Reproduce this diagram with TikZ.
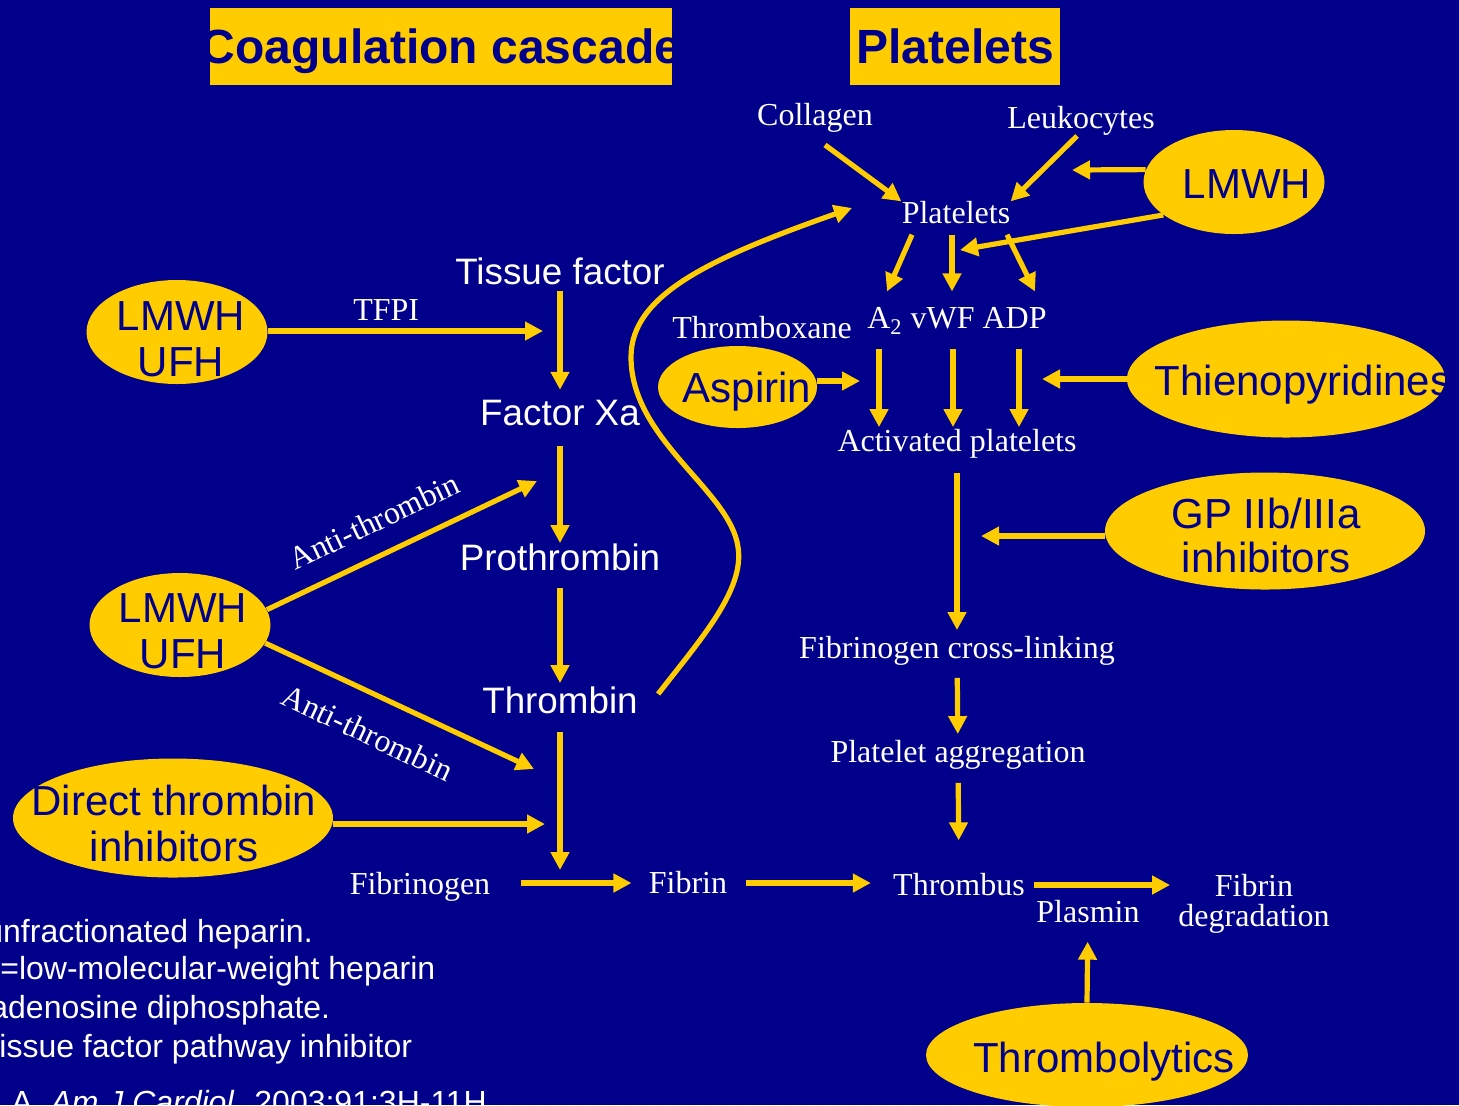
\documentclass[tikz,border=0pt]{standalone}
\usepackage{fontspec}
\setmainfont{Liberation Serif}
\setsansfont{Liberation Sans}
\usepackage{tikz}
\usetikzlibrary{shapes.geometric,arrows.meta}
\definecolor{navy}{HTML}{00008B}
\definecolor{gold}{HTML}{FFCC00}

\begin{document}
\begin{tikzpicture}[x=0.5pt,y=-0.5pt,
  lbl/.style={text=white,font=\fontsize{16}{19}\selectfont,inner sep=0pt,align=center},
  stage/.style={text=white,font=\sffamily\fontsize{18.4}{22}\selectfont,inner sep=0pt},
  drug/.style={ellipse,fill=gold,inner sep=0pt},
  drugtxt/.style={text=navy,font=\sffamily\fontsize{21}{23}\selectfont,inner sep=0pt,align=center},
  ttl/.style={fill=gold,text=navy,font=\sffamily\bfseries\fontsize{24}{28}\selectfont,inner sep=0pt,minimum height=38.5pt},
  note/.style={text=white,font=\sffamily\fontsize{16}{19}\selectfont,inner sep=0pt,anchor=base west},
  arr/.style={-{Triangle[length=9pt,width=9pt]},gold,line width=2.6pt}]
\useasboundingbox (0,0) rectangle (1459,1105);
\fill[navy] (0,0) rectangle (1459,1105);
\clip (0,0) rectangle (1459,1105);

% titles
\node[ttl,minimum width=231pt] (ttlA) at (441,46.5) {\makebox[0pt]{\raisebox{-2.5pt}[\height][\depth]{Coagulation cascade}}};
\node[ttl,minimum width=105pt] (ttlB) at (955,46.5) {Platelets};

% coagulation cascade
\node[stage] (tf) at (560,271) {Tissue factor};
\node[stage] (fxa) at (560,413) {Factor Xa};
\node[stage] (pro) at (560,557) {Prothrombin};
\node[stage] (thr) at (560,700) {Thrombin};
\node[lbl] (fbg) at (420,887) {Fibrinogen};
\node[lbl] (fib) at (688,883) {Fibrin};
\node[lbl] (thrb) at (959,885) {Thrombus};
\node[lbl] (plas) at (1088,912) {Plasmin};
\node[lbl,font=\fontsize{16}{15}\selectfont] (fdeg) at (1254,904) {Fibrin\\degradation};

% platelets
\node[lbl] (coll) at (815,118) {Collagen};
\node[lbl] (leuk) at (1081,121) {Leukocytes};
\node[lbl] (plt) at (956,213) {Platelets};
\node[lbl] (txa) at (762,328) {Thromboxane};
\node[lbl] (med) at (957,321) {A\textsubscript{2} vWF ADP};
\node[lbl] (act) at (957,444) {Activated platelets};
\node[lbl] (fcl) at (957,651) {Fibrinogen cross-linking};
\node[lbl] (pagg) at (958,755) {Platelet aggregation};

% drugs
\node[drug,minimum width=90.5pt,minimum height=52pt] (lmwhA) at (177,332) {};
\node[drugtxt] (lmwhAT) at (181,339) {LMWH\\UFH};
\node[drug,minimum width=90.5pt,minimum height=52pt] (lmwhB) at (180,625) {};
\node[drugtxt] (lmwhBT) at (183,631) {LMWH\\UFH};
\node[drug,minimum width=160pt,minimum height=59.5pt] (dti) at (173,818) {};
\node[drugtxt] (dtiT) at (174,823) {Direct thrombin\\inhibitors};
\node[drug,minimum width=90.5pt,minimum height=52pt] (lmwhC) at (1234,182) {};
\node[drugtxt] (lmwhCT) at (1247,184) {LMWH};
\node[drug,minimum width=79.5pt,minimum height=41pt] (asp) at (737.5,387) {};
\node[drugtxt] (aspT) at (747,392) {Aspirin};
\node[drug,minimum width=159pt,minimum height=58.5pt] (thieno) at (1286,379) {};
\node[drugtxt] (thienoT) at (1303,385) {Thienopyridines};
\node[drug,minimum width=160pt,minimum height=58.5pt] (gp) at (1265,531) {};
\node[drugtxt,font=\sffamily\fontsize{21}{22}\selectfont] (gpT) at (1266,535) {GP IIb/IIIa\\inhibitors};
\node[drug,minimum width=161pt,minimum height=52pt] (thrombo) at (1087,1055) {};
\node[drugtxt] (thromboT) at (1104,1062) {Thrombolytics};

% free arrow ends
\coordinate (tfpiEnd) at (543,331);
\coordinate (joinA) at (560,870);
\coordinate (atUp) at (537,481);
\coordinate (atDn) at (534,769);
\coordinate (dtiEnd) at (545,824);
\coordinate (curveEnd) at (852,208);
\coordinate (lmwhCEnd) at (1072,170);
\coordinate (lmwhCTip) at (960,250);
\coordinate (aspEnd) at (860,381);
\coordinate (thEnd) at (1042,379);
\coordinate (gpEnd) at (981,536);

\draw[arr] (lmwhA.east |- tfpiEnd) -- (tfpiEnd) node[lbl,pos=0.43,above=4pt] (tfpiLbl) {TFPI};
\draw[arr,shorten <=3pt,shorten >=5pt] (tf) -- (fxa);
\draw[arr,shorten <=10pt] (fxa) -- (pro);
\draw[arr,shorten <=8.5pt,shorten >=1.5pt] (pro) -- (thr);
\draw[arr,shorten <=9pt] (thr) -- (joinA);
\draw[arr] (lmwhB.10) -- (atUp) node[lbl,pos=0.45,above=10pt,sloped] (atUpLbl) {Anti-thrombin};
\draw[arr] (lmwhB.-12) -- (atDn) node[lbl,pos=0.44,below=12pt,sloped] (atDnLbl) {Anti-thrombin};
\draw[arr] (dti.east |- dtiEnd) -- (dtiEnd);
\draw[arr,shorten <=15pt,shorten >=8.5pt] (fbg.east |- fib.west) -- (fib.west);
\draw[arr,shorten <=9pt,shorten >=11pt] (fib) -- (fib -| thrb.west);
\draw[arr,shorten <=4.5pt,shorten >=4pt] (thrb.east) -- (thrb.east -| fdeg.west);
\draw[arr,shorten >=9pt] (thrombo.north) -- (plas);
\draw[arr] ([shift={(10pt,3pt)}]thr.east) .. controls (700,640) and (745,590) .. (738,547)
  .. controls (730,490) and (631,440) .. (631,357) .. controls (631,295) and (710,258) .. (curveEnd);

\draw[arr] ([shift={(5pt,-6pt)}]coll.south) -- (plt.north west);
\draw[arr] ([xshift=-2pt]leuk.south) -- (plt.north east);
\draw[arr] (lmwhC.172) -- (lmwhCEnd);
\draw[arr] (lmwhC.205) -- (lmwhCTip);
\foreach \sx/\ex in {-22/-35,-2/-2.5,25.5/39}
  \draw[arr] ([shift={(\sx pt,-5pt)}]plt.south) -- ([shift={(\ex pt,8pt)}]med.north);
\foreach \dx in {-39,-2,31}
  \draw[arr,shorten <=7pt,shorten >=1pt] ([xshift=\dx pt]med.south) -- ([xshift=\dx pt]act.north);
\draw[arr] ([yshift=3pt]asp.east) -- (aspEnd);
\draw[arr] (thieno.west) -- (thEnd);
\draw[arr,shorten <=7pt,shorten >=3pt] (act) -- (fcl);
\draw[arr] ([yshift=-2.5pt]gp.west) -- (gpEnd);
\draw[arr,shorten <=6pt,shorten >=3pt] (fcl) -- (pagg);
\draw[arr,shorten <=6.5pt,shorten >=16.5pt] (pagg) -- (thrb);

% notes
\node[note] (n1) at (-15,942) {unfractionated heparin.};
\node[note] (n2) at (0,979) {=low-molecular-weight heparin};
\node[note] (n3) at (-10,1018) {adenosine diphosphate.};
\node[note] (n4) at (-1,1057) {issue factor pathway inhibitor};
\node[note] (n5) at (11,1113) {A. \textit{Am J Cardiol.} 2003;91:3H-11H};
\end{tikzpicture}
\end{document}
